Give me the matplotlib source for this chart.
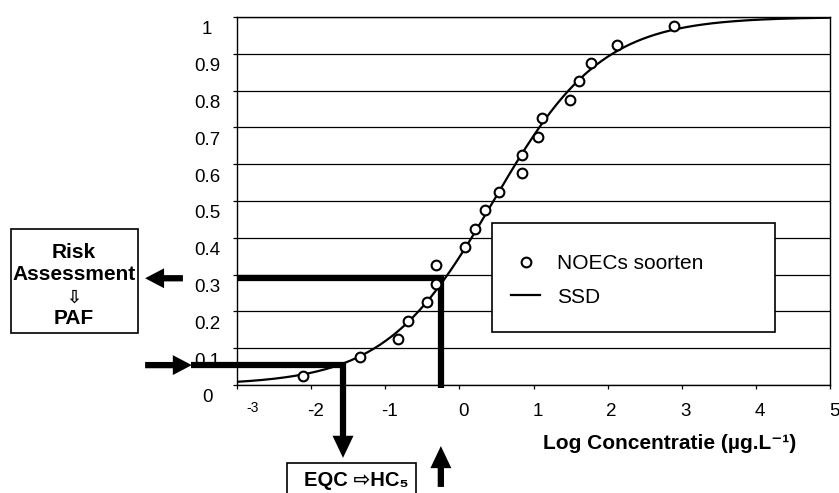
import matplotlib
matplotlib.use("Agg")
import matplotlib.pyplot as plt
import numpy as np
from matplotlib.patches import Rectangle
from matplotlib.transforms import ScaledTranslation

plt.rcParams["font.family"] = ["Liberation Sans", "DejaVu Sans"]

# NOEC values (log conc) and their cumulative fraction
log_noec = [-2.11, -1.34, -0.83, -0.70, -0.44, -0.32, -0.31, 0.08, 0.21, 0.34,
            0.54, 0.84, 0.84, 1.06, 1.11, 1.49, 1.61, 1.77, 2.12, 2.90]
fraction = [0.025, 0.075, 0.125, 0.175, 0.225, 0.275, 0.325, 0.375, 0.425, 0.475,
            0.525, 0.575, 0.625, 0.675, 0.725, 0.775, 0.825, 0.875, 0.925, 0.975]

# fitted log-logistic SSD
ssd_mean = 0.46
ssd_scale = 0.73

# read-off points for the two procedures
eqc_log, eqc_frac = -1.57, 0.054   # HC5 -> EQC
paf_log, paf_frac = -0.25, 0.29    # concentration -> PAF

x_ticks = [-3, -2, -1, 0, 1, 2, 3, 4, 5]
x_labels = ["-3", "-2", "-1", "0", "1", "2", "3", "4", "5"]
y_ticks = [0, 0.1, 0.2, 0.3, 0.4, 0.5, 0.6, 0.7, 0.8, 0.9, 1]
y_labels = ["0", "0.1", "0.2", "0.3", "0.4", "0.5", "0.6", "0.7", "0.8", "0.9", "1"]

fig = plt.figure(figsize=(8.39, 4.93), dpi=100)
ax = fig.add_axes([0.2825, 0.2191, 0.7068, 0.7465])
ax.set_xlim(-3, 5)
ax.set_ylim(0, 1)

for s in ax.spines.values():
    s.set_linewidth(1.0)
ax.yaxis.grid(True, color="black", lw=0.9)

ax.set_xticks(x_ticks, x_labels)
ax.set_yticks(y_ticks, y_labels)
ax.tick_params(axis="both", direction="out", length=3, width=0.9, labelsize=13.5)
ax.tick_params(axis="y", pad=18.6)
ax.tick_params(axis="x", pad=10)

# excel-like label placement: y labels centred and sitting below their line
for lab in ax.get_yticklabels():
    lab.set_horizontalalignment("center")
    lab.set_transform(lab.get_transform() + ScaledTranslation(0, -0.11, fig.dpi_scale_trans))
for lab in ax.get_xticklabels():
    lab.set_transform(lab.get_transform() + ScaledTranslation(0.04, 0, fig.dpi_scale_trans))
first = ax.get_xticklabels()[0]
first.set_fontsize(10)
first.set_transform(first.get_transform() + ScaledTranslation(0.12, 0.02, fig.dpi_scale_trans))

# SSD curve and data
xs = np.linspace(-3, 5, 400)
ys = 1 / (1 + np.exp(-(xs - ssd_mean) / ssd_scale))
ssd_line, = ax.plot(xs, ys, color="black", lw=1.6, label="SSD", zorder=4)
pts, = ax.plot(log_noec, fraction, "o", mfc="white", mec="black", ms=7, mew=1.5,
               label="NOECs soorten", zorder=5, clip_on=False)

# thick read-off lines and arrows
lw_thick = 4.5
wh, hwh, hlh = 0.0171, 0.054, 0.256   # horizontal arrows (y width, x length)
wv, hwv, hlv = 0.085, 0.283, 0.06     # vertical arrows
akw = dict(length_includes_head=True, fc="black", ec="none", lw=0, clip_on=False, zorder=3)

ax.arrow(-4.24, eqc_frac, 0.63, 0, width=wh, head_width=hwh, head_length=hlh, **akw)
ax.plot([-3.62, eqc_log, eqc_log], [eqc_frac, eqc_frac, -0.14], color="black", lw=lw_thick,
        solid_joinstyle="miter", solid_capstyle="butt", clip_on=False, zorder=3)
ax.arrow(eqc_log, -0.14, 0, -0.058, width=wv, head_width=hwv, head_length=hlv, **akw)

ax.plot([paf_log, paf_log, -3], [-0.008, paf_frac, paf_frac], color="black", lw=lw_thick,
        solid_joinstyle="miter", solid_capstyle="butt", clip_on=False, zorder=3)
ax.arrow(-3.73, paf_frac, -0.51, 0, width=wh, head_width=hwh, head_length=hlh, **akw)
ax.arrow(paf_log, -0.277, 0, 0.111, width=wv, head_width=hwv, head_length=hlv, **akw)

# legend in its own box
ax.add_patch(Rectangle((0.43, 0.144), 0.477, 0.296, transform=ax.transAxes,
                       fc="white", ec="black", lw=1.2, zorder=6))
leg = ax.legend(handles=[pts, ssd_line], loc="center left", bbox_to_anchor=(0.462, 0.284),
                frameon=False, fontsize=15, handlelength=1.4, handletextpad=0.8,
                labelspacing=0.68, borderpad=0, borderaxespad=0)
leg.set_zorder(7)

ax.set_xlabel("Log Concentratie (µg.L⁻¹)", fontsize=15, fontweight="bold", va="center")
ax.xaxis.set_label_coords(0.730, -0.158)

# side boxes
fig.add_artist(Rectangle((11 / 839, 0.3245), 127 / 839, 0.211, transform=fig.transFigure,
                         fc="white", ec="black", lw=1.2))
bx = 74 / 839
fig.text(bx, 1 - 253 / 493, "Risk", ha="center", va="center", fontsize=15, fontweight="bold")
fig.text(bx, 1 - 275 / 493, "Assessment", ha="center", va="center", fontsize=15, fontweight="bold")
fig.text(bx, 1 - 298 / 493, "⇩", ha="center", va="center", fontsize=13, fontweight="bold")
fig.text(bx, 1 - 318 / 493, "PAF", ha="center", va="center", fontsize=15, fontweight="bold")

fig.add_artist(Rectangle((287 / 839, -0.05), 129 / 839, 0.1115, transform=fig.transFigure,
                         fc="white", ec="black", lw=1.2))
fig.text(356 / 839, 1 - 481 / 493, "EQC ⇨HC₅", ha="center", va="center", fontsize=14.5,
         fontweight="bold")

fig.savefig("out.png", dpi=100)
